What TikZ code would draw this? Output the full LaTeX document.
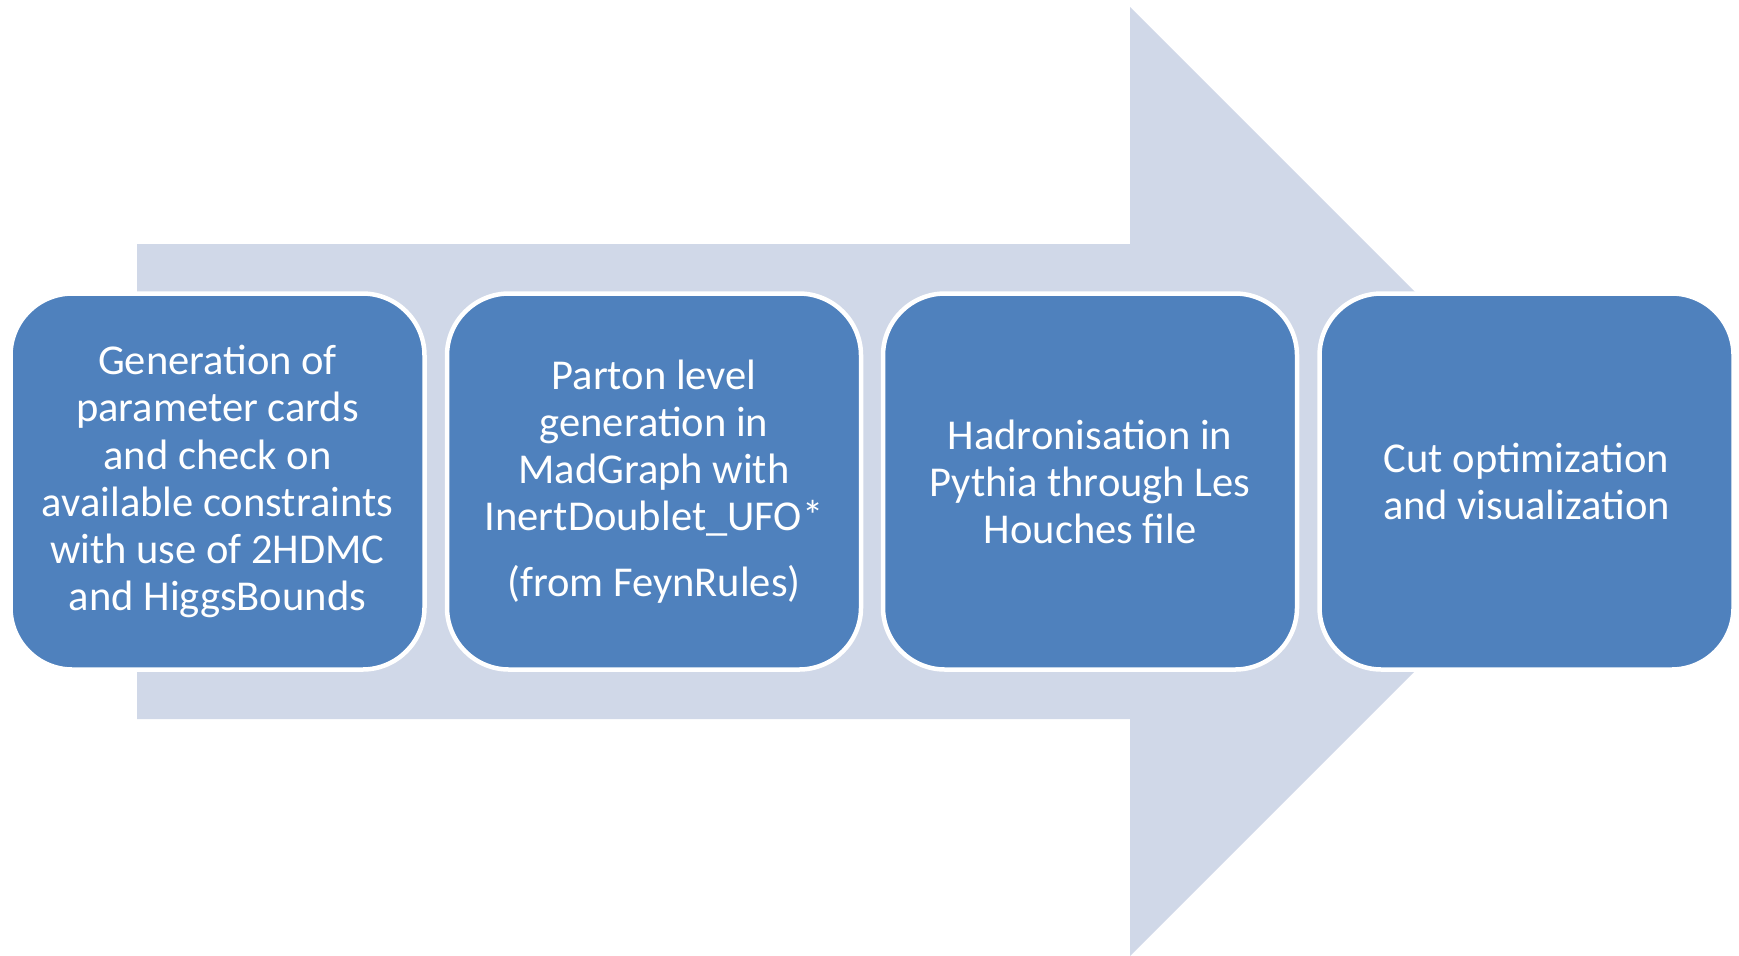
\documentclass[tikz,border=0pt]{standalone}
\usepackage{fontspec}
\setmainfont{Carlito}
\usepackage{xcolor}
\usepackage{tikz}
\definecolor{boxblue}{HTML}{4F81BD}
\definecolor{pale}{HTML}{D0D8E8}
\tikzset{
  font=\fontsize{12.1pt}{13.4pt}\selectfont,
  stage/.style = {draw=white, line width=0.45mm, fill=boxblue, rounded corners=6.2mm,
                  align=center, minimum width=41.4mm, minimum height=37.6mm,
                  text=white, inner sep=0pt},
  band/.style  = {fill=pale, draw=none},
}
\begin{document}
\begin{tikzpicture}
\useasboundingbox (0,0) rectangle (173.9mm,-95.5mm);

% ---------------- the big arrow behind -------------------------------
\path[band] (13.7mm,-24.4mm) -- (113mm,-24.4mm) -- (113mm,-0.7mm)
  -- (160.45mm,-48.15mm) -- (113mm,-95.6mm) -- (113mm,-71.9mm)
  -- (13.7mm,-71.9mm) -- cycle;

% ---------------- the four stages ------------------------------------
\node[stage] at (21.75mm, -48.15mm) (s1)
  {Generation of\\parameter cards\\and check on\\available constraints\\with use of 2HDMC\\and HiggsBounds};
\node[stage] at (65.4mm, -48.15mm) (s2)
  {Parton level\\generation in\\MadGraph with\\InertDoublet\_UFO*\\[1.9mm](from FeynRules)};
\node[stage] at (109.0mm, -48.15mm) (s3)
  {Hadronisation in\\Pythia through Les\\Houches file};
\node[stage] at (152.65mm, -48.15mm) (s4)
  {Cut optimization\\and visualization};

\end{tikzpicture}
\end{document}
